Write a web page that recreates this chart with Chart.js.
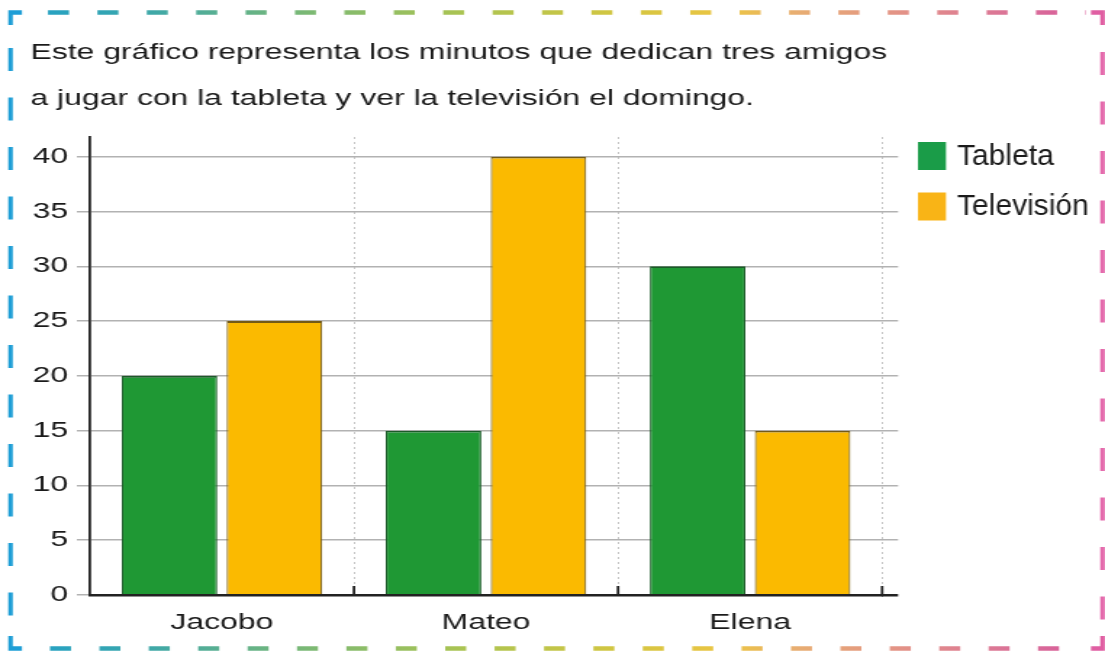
<!DOCTYPE html>
<html>
<head>
<meta charset="utf-8">
<title>Minutos con la tableta y la televisión</title>
<script src="https://cdn.jsdelivr.net/npm/chart.js@4.4.1/dist/chart.umd.min.js"></script>
<style>
  html, body { margin: 0; padding: 0; background: #fff; }
</style>
</head>
<body>
<canvas id="chart" width="762" height="658" style="display:block;width:1105px;height:658px"></canvas>
<script>
// the picture is stretched sideways, so the chart is drawn on a narrow canvas and widened by CSS
const STRETCH = 1105 / 762;

const categories = ["Jacobo", "Mateo", "Elena"];
const tabletaMinutes = [20, 15, 30];
const televisionMinutes = [25, 40, 15];
const yTicks = [0, 5, 10, 15, 20, 25, 30, 35, 40];
const titleLines = [
    "Este gráfico representa los minutos que dedican tres amigos",
    "a jugar con la tableta y ver la televisión el domingo."
];

Chart.defaults.font.family = "'Liberation Sans', Arial, Helvetica, sans-serif";
Chart.defaults.color = "#1a1a1a";

// dashed rainbow frame, drawn in real page pixels
const framePlugin = {
    id: "frame",
    beforeDraw(chart) {
        const ctx = chart.ctx;
        ctx.save();
        ctx.scale(1 / STRETCH, 1);

        let grad = ctx.createLinearGradient(0, 0, 1105, 0);
        grad.addColorStop(0, "#1fa0cc");
        grad.addColorStop(0.12, "#38a6ae");
        grad.addColorStop(0.28, "#7cb974");
        grad.addColorStop(0.42, "#abc452");
        grad.addColorStop(0.56, "#d3c642");
        grad.addColorStop(0.66, "#ecc544");
        grad.addColorStop(0.72, "#e8ae72");
        grad.addColorStop(0.83, "#e28e8a");
        grad.addColorStop(0.93, "#d96e9a");
        grad.addColorStop(1, "#d85298");

        ctx.lineWidth = 4.5;
        ctx.strokeStyle = grad;
        ctx.setLineDash([21, 28.4]);
        ctx.beginPath();
        ctx.moveTo(48, 12.5);
        ctx.lineTo(1086, 12.5);
        ctx.moveTo(50, 648.5);
        ctx.lineTo(1080, 648.5);
        ctx.stroke();

        ctx.setLineDash([23, 26.5]);
        ctx.strokeStyle = "#1e9ed6";
        ctx.beginPath();
        ctx.moveTo(10.5, 48);
        ctx.lineTo(10.5, 620);
        ctx.stroke();

        ctx.strokeStyle = "#e46aac";
        ctx.beginPath();
        ctx.moveTo(1102.5, 52);
        ctx.lineTo(1102.5, 622);
        ctx.stroke();

        // corners
        ctx.setLineDash([]);
        ctx.strokeStyle = "#1e9ed6";
        ctx.beginPath();
        ctx.moveTo(10.5, 25); ctx.lineTo(10.5, 12.5); ctx.lineTo(22, 12.5);
        ctx.moveTo(10.5, 636); ctx.lineTo(10.5, 648.5); ctx.lineTo(22, 648.5);
        ctx.stroke();
        ctx.strokeStyle = "#e05ea2";
        ctx.beginPath();
        ctx.moveTo(1091, 12.5); ctx.lineTo(1102.5, 12.5); ctx.lineTo(1102.5, 25);
        ctx.moveTo(1091, 648.5); ctx.lineTo(1102.5, 648.5); ctx.lineTo(1102.5, 636);
        ctx.stroke();

        ctx.restore();
    }
};

// little upright ticks on the x axis between the groups
const categoryTicks = {
    id: "categoryTicks",
    afterDraw(chart) {
        const ctx = chart.ctx;
        const x = chart.scales.x;
        const y = chart.scales.y;
        const half = (x.getPixelForValue(1) - x.getPixelForValue(0)) / 2;
        ctx.save();
        ctx.strokeStyle = "#222";
        ctx.lineWidth = 1.8;
        ctx.beginPath();
        for (let i = 0; i < categories.length; i++) {
            const px = x.getPixelForValue(i) + half;
            ctx.moveTo(px, y.bottom);
            ctx.lineTo(px, y.bottom - 9);
        }
        ctx.stroke();
        ctx.restore();
    }
};

// legend on the right; the reference legend is not stretched, so undo the CSS stretch
const sideLegend = {
    id: "sideLegend",
    afterDraw(chart) {
        const ctx = chart.ctx;
        ctx.save();
        ctx.scale(1 / STRETCH, 1);
        ctx.font = "30px 'Liberation Sans', Arial, sans-serif";
        ctx.textBaseline = "middle";
        chart.data.datasets.forEach((ds, i) => {
            const top = 142 + i * 50.5;
            ctx.fillStyle = ds.legendColor;
            ctx.fillRect(918, top, 28, 28);
            ctx.fillStyle = "#1a1a1a";
            ctx.fillText(ds.label, 957, top + 14.5);
        });
        ctx.restore();
    }
};

function setTicks(scale) {
    scale.ticks = yTicks.map(v => ({ value: v }));
}

new Chart(document.getElementById("chart"), {
    type: "bar",
    data: {
        labels: categories,
        datasets: [{
            label: "Tableta",
            data: tabletaMinutes,
            backgroundColor: "#1f9834",
            borderColor: "#1b5a28",
            legendColor: "#1a9c48",
            borderWidth: { top: 1.8, left: 1.1, right: 1.1, bottom: 0 },
            categoryPercentage: 0.795,
            barPercentage: 0.91
        }, {
            label: "Televisión",
            data: televisionMinutes,
            backgroundColor: "#fbba00",
            borderColor: "#735a16",
            legendColor: "#f9b416",
            borderWidth: { top: 1.8, left: 1.1, right: 1.1, bottom: 0 },
            categoryPercentage: 0.795,
            barPercentage: 0.91
        }]
    },
    options: {
        responsive: false,
        animation: false,
        devicePixelRatio: 1,
        layout: { padding: { top: 0, left: 21, right: 142.7, bottom: 0 } },
        plugins: {
            legend: { display: false },
            tooltip: { enabled: false },
            title: {
                display: true,
                text: titleLines,
                align: "start",
                color: "#1a1a1a",
                font: { size: 22, weight: "normal", lineHeight: 2.1 },
                padding: { top: 30, bottom: 14.6 }
            }
        },
        scales: {
            x: {
                offset: true,
                afterFit: s => { s.height = 63; },
                ticks: { color: "#1a1a1a", font: { size: 22 }, padding: 15 },
                border: { color: "#222", width: 2.5, z: 1, dash: [2, 3] },
                grid: { offset: true, color: "#c6c6c6", lineWidth: 1, drawTicks: false }
            },
            y: {
                min: 0,
                max: 41.8,
                bounds: "data",
                afterBuildTicks: setTicks,
                afterFit: s => { s.width = 41; },
                ticks: { color: "#1a1a1a", font: { size: 22 }, padding: 6 },
                border: { color: "#222", width: 1.8, z: 1 },
                grid: { color: "#b2b2b2", lineWidth: 1.5, tickLength: 9 }
            },
            y2: {
                position: "right",
                min: 0,
                max: 41.8,
                bounds: "data",
                afterBuildTicks: setTicks,
                afterFit: s => { s.width = 11; },
                ticks: { display: false },
                border: { display: false },
                grid: {
                    drawOnChartArea: false,
                    tickLength: 11,
                    color: c => (c.tick && c.tick.value === 0 ? "#222" : "#b2b2b2"),
                    lineWidth: c => (c.tick && c.tick.value === 0 ? 2.5 : 1.5)
                }
            }
        }
    },
    plugins: [framePlugin, categoryTicks, sideLegend]
});
</script>
</body>
</html>
